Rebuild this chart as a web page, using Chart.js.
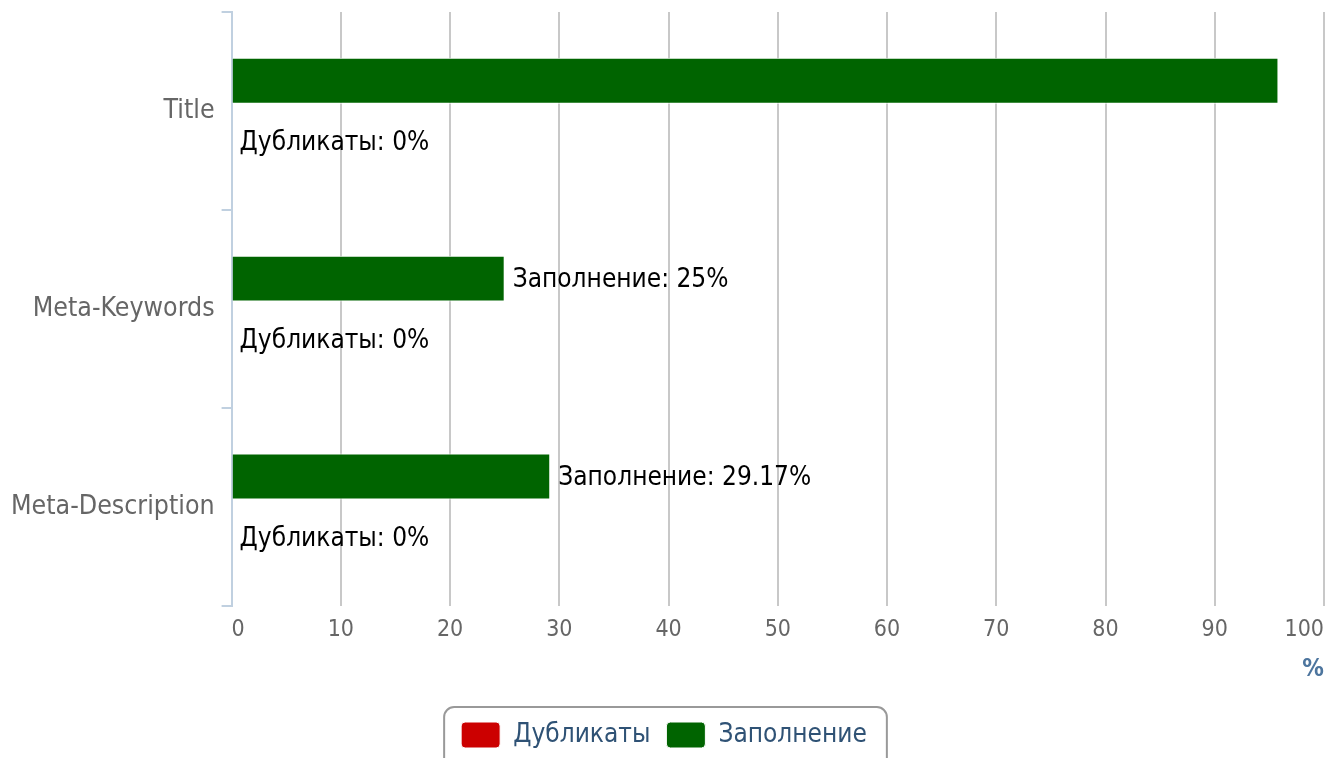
<!DOCTYPE html>
<html>
<head>
<meta charset="utf-8">
<script src="https://cdn.jsdelivr.net/npm/chart.js@4"></script>
<style>
  html, body { margin: 0; padding: 0; background: #fff; }
  #wrap { width: 1335px; height: 758px; }
</style>
</head>
<body>
<div id="wrap"><canvas id="chart"></canvas></div>
<script>
const categories = ["Title", "Meta-Keywords", "Meta-Description"];
const fillValues = [95.83, 25, 29.17];
const dupValues = [0, 0, 0];
const xTicks = [0, 10, 20, 30, 40, 50, 60, 70, 80, 90, 100];

const FONT = "'DejaVu Sans Condensed', 'DejaVu Sans', sans-serif";

// draws "Series: value%" to the right of each bar, skipped if it would not fit
const barLabels = {
  id: "barLabels",
  afterDatasetsDraw(chart) {
    const ctx = chart.ctx;
    ctx.save();
    ctx.font = "26px " + FONT;
    ctx.fillStyle = "#000";
    ctx.textAlign = "left";
    ctx.textBaseline = "middle";
    chart.data.datasets.forEach((ds, i) => {
      const meta = chart.getDatasetMeta(i);
      meta.data.forEach((bar, j) => {
        const text = `${ds.label}: ${ds.data[j]}%`;
        const x = bar.x + 8;
        if (x + ctx.measureText(text).width > chart.width) return;
        ctx.fillText(text, x, bar.y + 2);
      });
    });
    ctx.restore();
  },
};

// rounded frame around the legend
const legendFrame = {
  id: "legendFrame",
  afterDraw(chart) {
    const boxes = chart.legend.legendHitBoxes;
    if (!boxes || !boxes.length) return;
    const l = Math.min(...boxes.map((b) => b.left)) - 17;
    const r = Math.max(...boxes.map((b) => b.left + b.width)) + 20;
    const t = boxes[0].top - 15;
    const ctx = chart.ctx;
    ctx.save();
    ctx.strokeStyle = "#999";
    ctx.lineWidth = 2;
    ctx.beginPath();
    ctx.roundRect(l, t, r - l, 80, 10);
    ctx.stroke();
    ctx.restore();
  },
};

new Chart(document.getElementById("chart"), {
  type: "bar",
  data: {
    labels: categories,
    datasets: [
      {
        label: "Заполнение",
        data: fillValues,
        backgroundColor: "#006400",
        borderColor: "#ffffff",
        borderWidth: 1,
      },
      {
        label: "Дубликаты",
        data: dupValues,
        backgroundColor: "#cc0000",
        borderColor: "#ffffff",
        borderWidth: 1,
      },
    ],
  },
  options: {
    indexAxis: "y",
    responsive: true,
    maintainAspectRatio: false,
    animation: false,
    categoryPercentage: 0.61,
    barPercentage: 0.76,
    layout: { padding: { top: 12, right: 11, left: 4, bottom: 0 } },
    scales: {
      x: {
        min: 0,
        max: 100,
        afterBuildTicks(axis) {
          axis.ticks = xTicks.map((v) => ({ value: v }));
        },
        grid: { color: "#c8c8c8", lineWidth: 2, drawTicks: false },
        border: { display: false },
        ticks: {
          align: "inner",
          padding: 11,
          color: "#666",
          font: { family: FONT, size: 23 },
        },
        title: {
          display: true,
          text: "%",
          align: "end",
          color: "#4d759e",
          font: { family: FONT, size: 24, weight: "bold" },
          padding: { top: 0, bottom: 22 },
        },
      },
      y: {
        afterFit(scale) {
          scale.paddingTop = 0;
          scale.paddingBottom = 0;
        },
        grid: {
          drawOnChartArea: false,
          color: "#c0d0e0",
          lineWidth: 2,
          tickLength: 10,
          offset: true,
        },
        border: { color: "#c0d0e0", width: 2 },
        ticks: {
          color: "#666",
          padding: 7,
          font: { family: FONT, size: 26.5 },
        },
      },
    },
    plugins: {
      legend: {
        position: "bottom",
        reverse: true,
        labels: {
          color: "#2f5275",
          font: { family: FONT, size: 26 },
          boxWidth: 39,
          boxHeight: 26,
          useBorderRadius: true,
          borderRadius: 4,
          padding: 16,
        },
      },
      tooltip: { enabled: false },
    },
  },
  plugins: [barLabels, legendFrame],
});
</script>
</body>
</html>
